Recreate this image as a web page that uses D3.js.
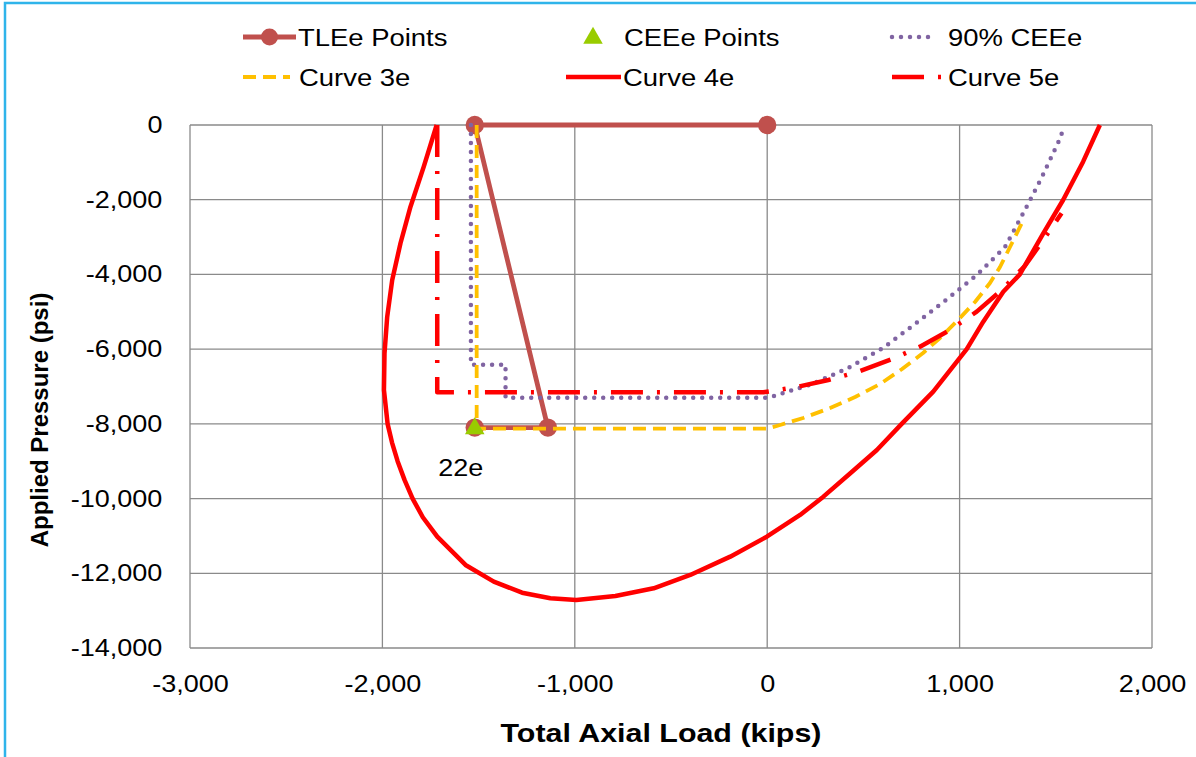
<!DOCTYPE html>
<html>
<head>
<meta charset="utf-8">
<script src="https://cdn.jsdelivr.net/npm/d3@7"></script>
<style>
  body { margin: 0; background: #fff; }
  text { font-family: Arial, "Liberation Sans", sans-serif; fill: #000; }
</style>
</head>
<body>
<svg id="chart" width="1196" height="757"></svg>
<script>
// series, as [load (kips), pressure (psi)]
const tleePoints = [[0, 0], [-1520, 0], [-1140, -8100], [-1520, -8100]];
const ceeePoints = [[-1520, -8100]];
const cee90 = [[-1540, 0], [-1540, -6420], [-1360, -6420], [-1360, -7300], [0, -7300],
  [36, -7254], [234, -6932], [421, -6504], [602, -5969], [768, -5327], [929, -4684],
  [1090, -4015], [1236, -3266], [1334, -2329], [1428, -1392], [1516, -428], [1540, -100]];
const curve3e = [[-1510, 0], [-1510, -8130], [0, -8130], [67, -8030], [187, -7843],
  [327, -7575], [457, -7281], [587, -6933], [701, -6531], [810, -6103], [898, -5701],
  [992, -5220], [1080, -4738], [1158, -4229], [1210, -3801], [1262, -3266], [1327, -2590]];
const curve4e = [[-1718, 0], [-1785, -1116], [-1854, -2187], [-1906, -3166], [-1949, -4149],
  [-1975, -5131], [-1989, -6111], [-1992, -7093], [-1973, -8000], [-1950, -8500],
  [-1921, -9000], [-1885, -9500], [-1843, -10000], [-1790, -10500], [-1715, -11020],
  [-1568, -11777], [-1421, -12224], [-1274, -12519], [-1127, -12669], [-992, -12714],
  [-789, -12607], [-590, -12401], [-400, -12045], [-192, -11555], [-2, -11020], [171, -10439],
  [292, -9949], [432, -9323], [570, -8699], [699, -8000], [863, -7138], [1037, -6000],
  [1123, -5265], [1227, -4462], [1313, -4000], [1435, -2899], [1538, -2007],
  [1642, -982], [1729, 0]];
const curve5e = [[-1715, 0], [-1715, -7155], [-20, -7155], [145, -7021], [318, -6825],
  [474, -6603], [647, -6271], [794, -5934], [950, -5487], [1089, -4997], [1219, -4416],
  [1340, -3766], [1435, -3078], [1530, -2364]];

const xTicks = [-3000, -2000, -1000, 0, 1000, 2000];
const yTicks = [0, -2000, -4000, -6000, -8000, -10000, -12000, -14000];
const pointLabel = { text: '22e', at: [-1710, -9400] };

const SX = 1.15; // the picture is a bit wider than it is tall, text too
const svg = d3.select('#chart');

const x = d3.scaleLinear().domain([-3000, 2000]).range([190, 1152]);
const y = d3.scaleLinear().domain([0, -14000]).range([125, 648]);
const fmt = d3.formatLocale({ decimal: '.', thousands: ',', grouping: [3], currency: ['', ''], minus: '-' }).format(',');

// outer frame
svg.append('rect').attr('x', 5).attr('y', 3).attr('width', 1200).attr('height', 780)
  .attr('fill', 'none').attr('stroke', '#2fb4ea').attr('stroke-width', 2.5);

// grid
const grid = svg.append('g').attr('stroke', '#8a8a8a').attr('stroke-width', 1.3);
grid.selectAll('.gx').data(xTicks).enter().append('line')
  .attr('x1', d => x(d)).attr('x2', d => x(d)).attr('y1', y(0)).attr('y2', y(-14000));
grid.selectAll('.gy').data(yTicks).enter().append('line')
  .attr('y1', d => y(d)).attr('y2', d => y(d)).attr('x1', x(-3000)).attr('x2', x(2000));

// axes (labels only)
const yAxis = svg.append('g').attr('transform', `translate(${x(-3000)},0)`)
  .call(d3.axisLeft(y).tickValues(yTicks).tickFormat(fmt).tickSize(0).tickPadding(24));
const xAxis = svg.append('g').attr('transform', `translate(0,${y(-14000)})`)
  .call(d3.axisBottom(x).tickValues(xTicks).tickFormat(fmt).tickSize(0).tickPadding(27));
[yAxis, xAxis].forEach(a => {
  a.select('.domain').remove();
  a.selectAll('text').attr('font-size', 23.5).attr('fill', '#000')
    .attr('font-family', 'Arial, "Liberation Sans", sans-serif')
    .attr('transform', `scale(${SX},1)`);
});

svg.append('text').attr('transform', `translate(48,420) rotate(-90)`)
  .attr('text-anchor', 'middle').attr('font-size', 24).attr('font-weight', 'bold')
  .text('Applied Pressure (psi)');
svg.append('text').attr('transform', `translate(661,742) scale(1.17,1)`)
  .attr('text-anchor', 'middle').attr('font-size', 26).attr('font-weight', 'bold')
  .text('Total Axial Load (kips)');

const line = d3.line().x(d => x(d[0])).y(d => y(d[1]));

const styles = {
  tle: { stroke: '#c0504d', width: 4.8 },
  cee90: { stroke: '#8064a2', width: 4.5, dash: '0,9', cap: 'round' },
  c3: { stroke: '#ffc000', width: 3.8, dash: '13,7' },
  c4: { stroke: '#ff0000', width: 4.5 },
  c5: { stroke: '#ff0000', width: 4.5, dash: '32,14,3,14' }
};

function drawLine(data, s) {
  svg.append('path').datum(data).attr('d', line).attr('fill', 'none')
    .attr('stroke', s.stroke).attr('stroke-width', s.width)
    .attr('stroke-dasharray', s.dash || null).attr('stroke-linecap', s.cap || 'butt')
    .attr('stroke-linejoin', 'round');
}

drawLine(tleePoints, styles.tle);
svg.selectAll('.tle').data(tleePoints).enter().append('circle')
  .attr('cx', d => x(d[0])).attr('cy', d => y(d[1])).attr('r', 9.2).attr('fill', '#c0504d');
drawLine(cee90, styles.cee90);
drawLine(curve3e, styles.c3);
drawLine(curve4e, styles.c4);
drawLine(curve5e, styles.c5);

const tri = d3.symbol().type(d3.symbolTriangle).size(165);
svg.selectAll('.cee').data(ceeePoints).enter().append('path')
  .attr('d', tri).attr('fill', '#99cc00')
  .attr('transform', d => `translate(${x(d[0])},${y(d[1]) + 1})`);

svg.append('text').attr('transform', `translate(${x(pointLabel.at[0])},${y(pointLabel.at[1])}) scale(${SX},1)`)
  .attr('font-size', 23.5).text(pointLabel.text);

// legend
const legendItems = [
  { name: 'TLEe Points', s: styles.tle, x0: 243, x1: 296, tx: 298, row: 0, marker: 'circle' },
  { name: 'CEEe Points', s: null, tx: 624, row: 0, marker: 'triangle', mx: 593 },
  { name: '90% CEEe', s: styles.cee90, x0: 892, x1: 937, tx: 948, row: 0 },
  { name: 'Curve 3e', s: styles.c3, x0: 243, x1: 290, tx: 299, row: 1 },
  { name: 'Curve 4e', s: styles.c4, x0: 566, x1: 621, tx: 623, row: 1 },
  { name: 'Curve 5e', s: styles.c5, x0: 892, x1: 944, tx: 948, row: 1 }
];
const rowY = [37, 77];
const legend = svg.append('g');
legendItems.forEach(it => {
  const cy = rowY[it.row];
  if (it.s) {
    legend.append('line').attr('x1', it.x0).attr('x2', it.x1).attr('y1', cy).attr('y2', cy)
      .attr('stroke', it.s.stroke).attr('stroke-width', it.s.width)
      .attr('stroke-dasharray', it.s.dash || null).attr('stroke-linecap', it.s.cap || 'butt');
  }
  if (it.marker === 'circle') {
    legend.append('circle').attr('cx', (it.x0 + it.x1) / 2).attr('cy', cy).attr('r', 8.5).attr('fill', '#c0504d');
  }
  if (it.marker === 'triangle') {
    legend.append('path').attr('d', tri).attr('fill', '#99cc00').attr('transform', `translate(${it.mx},${cy + 1})`);
  }
  legend.append('text').attr('transform', `translate(${it.tx},${cy + 8.5}) scale(1.12,1)`)
    .attr('font-size', 24.5).text(it.name);
});
</script>
</body>
</html>
